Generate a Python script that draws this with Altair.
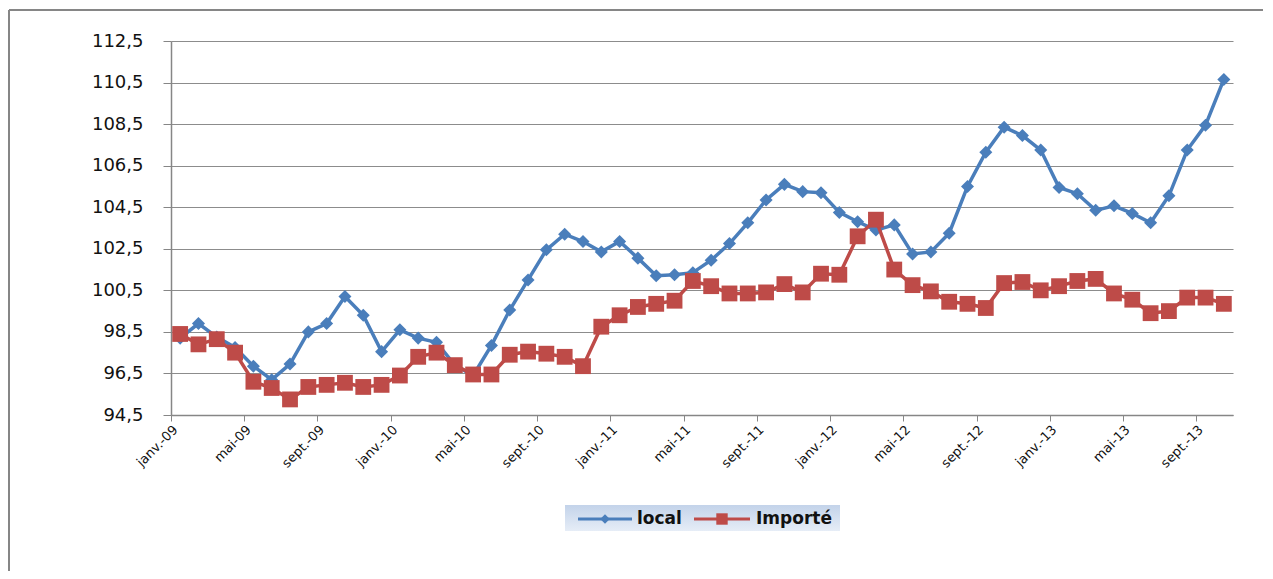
import altair as alt
import pandas as pd

tick_labels = ["janv.-09", "mai-09", "sept.-09", "janv.-10", "mai-10", "sept.-10",
               "janv.-11", "mai-11", "sept.-11", "janv.-12", "mai-12", "sept.-12",
               "janv.-13", "mai-13", "sept.-13"]

local = [98.2, 98.9, 98.25, 97.75, 96.85, 96.2, 96.95, 98.5, 98.9, 100.2,
         99.3, 97.55, 98.6, 98.2, 98.0, 96.9, 96.4, 97.85, 99.55, 101.0,
         102.45, 103.2, 102.85, 102.35, 102.85, 102.05, 101.2, 101.25, 101.35, 101.95,
         102.75, 103.75, 104.85, 105.6, 105.25, 105.2, 104.25, 103.8, 103.4, 103.65,
         102.25, 102.35, 103.25, 105.5, 107.15, 108.35, 107.95, 107.25, 105.45, 105.15,
         104.35, 104.57, 104.2, 103.75, 105.05, 107.25, 108.45, 110.65]

importe = [98.4, 97.9, 98.15, 97.5, 96.1, 95.8, 95.25, 95.85, 95.95, 96.05,
           95.85, 95.95, 96.4, 97.3, 97.5, 96.9, 96.45, 96.45, 97.4, 97.55,
           97.45, 97.3, 96.85, 98.75, 99.3, 99.7, 99.85, 100.0, 100.95, 100.7,
           100.35, 100.35, 100.4, 100.8, 100.4, 101.3, 101.25, 103.1, 103.9, 101.5,
           100.75, 100.45, 99.95, 99.85, 99.65, 100.85, 100.9, 100.5, 100.7, 100.95,
           101.05, 100.35, 100.05, 99.4, 99.5, 100.15, 100.15, 99.85]

series_names = ["local", "Importé"]
colors = ["#4A7EBB", "#BE4B48"]
shapes = ["diamond", "square"]
sizes = [170, 250]
y_ticks = [94.5, 96.5, 98.5, 100.5, 102.5, 104.5, 106.5, 108.5, 110.5, 112.5]

n = len(local)
df = pd.DataFrame({
    "pos": [i + 0.5 for i in range(n)] * 2,
    "value": local + importe,
    "series": [series_names[0]] * n + [series_names[1]] * n,
})

label_expr = "[" + ",".join("'" + t + "'" for t in tick_labels) + "][round(datum.value / 4)]"

x_enc = alt.X("pos:Q",
              scale=alt.Scale(domain=[0, n], nice=False, zero=False),
              axis=alt.Axis(values=list(range(0, 57, 4)), labelExpr=label_expr,
                            labelAngle=-45, grid=False, tickSize=6, title=None,
                            labelFontSize=13, labelPadding=2))
y_enc = alt.Y("value:Q",
              scale=alt.Scale(domain=[94.5, 112.5], nice=False, zero=False),
              axis=alt.Axis(values=y_ticks,
                            labelExpr="replace(format(datum.value, '.1f'), '.', ',')",
                            grid=True, tickSize=8, title=None, labelFontSize=18,
                            labelPadding=20))

base = alt.Chart(df).encode(x=x_enc, y=y_enc)

layers = []
for s, c, sh, sz in zip(series_names, colors, shapes, sizes):
    sub = base.transform_filter(alt.datum.series == s)
    layers.append(sub.mark_line(color=c, strokeWidth=3.5))
    layers.append(sub.mark_point(shape=sh, filled=True, color=c, size=sz, opacity=1))

one = pd.DataFrame({"k": [0]})
frame_left = alt.Chart(one).mark_rule(color="#868686", strokeWidth=2).encode(
    x=alt.value(-162), y=alt.value(-31), y2=alt.value(540))
frame_top = alt.Chart(one).mark_rule(color="#868686", strokeWidth=2).encode(
    x=alt.value(-162), x2=alt.value(1100), y=alt.value(-31))

legend_box = alt.Chart(one).mark_rect(
    fill=alt.Gradient(gradient="linear",
                      stops=[alt.GradientStop(color="#c3d3ea", offset=0),
                             alt.GradientStop(color="#e6edf7", offset=1)],
                      x1=0, x2=0, y1=0, y2=1)
).encode(x=alt.value(394), x2=alt.value(669), y=alt.value(464), y2=alt.value(490))

leg_items = []
leg_specs = [(407, 461, 434, 466), (523, 579, 551, 585)]
for (xa, xb, xm, xt), s, c, sh, sz in zip(leg_specs, series_names, colors, shapes, [90, 130]):
    leg_items.append(alt.Chart(one).mark_rule(color=c, strokeWidth=3).encode(
        x=alt.value(xa), x2=alt.value(xb), y=alt.value(478)))
    leg_items.append(alt.Chart(one).mark_point(shape=sh, filled=True, color=c, size=sz, opacity=1).encode(
        x=alt.value(xm), y=alt.value(478)))
    leg_items.append(alt.Chart(one).mark_text(text=s, align="left", baseline="middle",
                                              font="DejaVu Sans", fontWeight="bold",
                                              fontSize=17, color="#111111").encode(
        x=alt.value(xt), y=alt.value(478)))

chart = alt.layer(frame_left, frame_top, *layers, legend_box, *leg_items).properties(
    width=1062, height=374,
    autosize=alt.AutoSizeParams(type="none"),
    padding={"left": 163, "top": 33, "right": 30, "bottom": 156},
    background="white",
).configure_view(strokeWidth=0).configure_axis(
    domainColor="#868686", tickColor="#868686", gridColor="#8c8c8c",
    labelColor="#111111", labelFont="DejaVu Sans", domainWidth=1.5, gridWidth=1.2,
)

chart.save("out.html", embed_options={"renderer": "svg", "actions": False})
